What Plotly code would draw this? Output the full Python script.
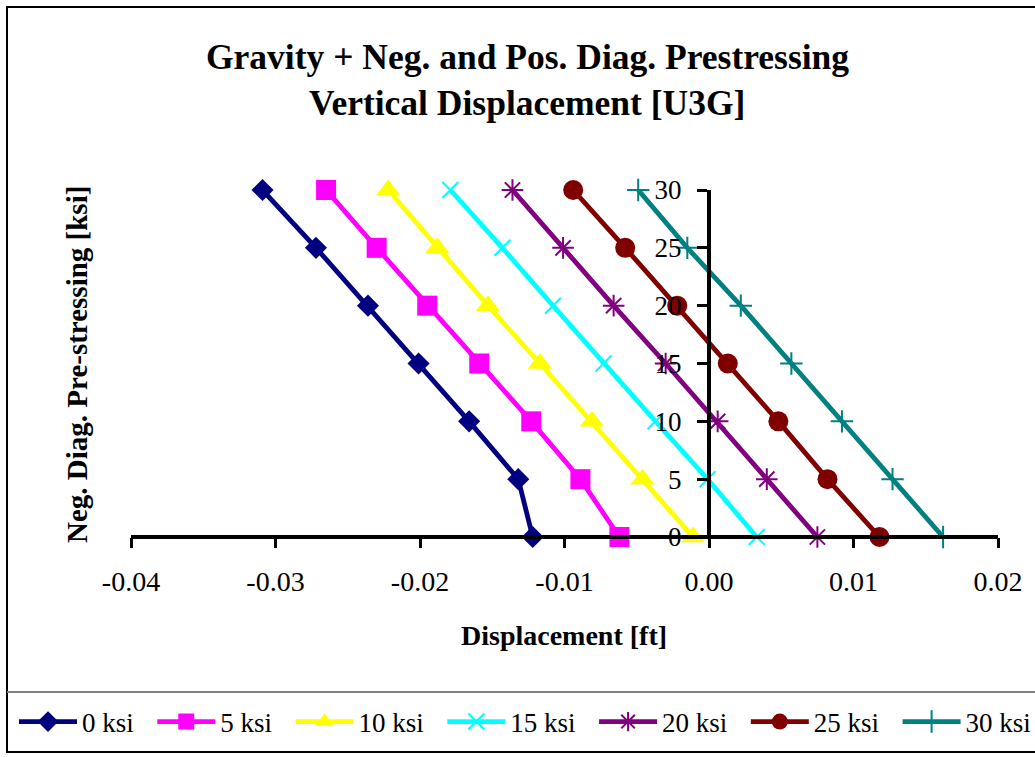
import plotly.graph_objects as go

# ---- data ----
prestress = [0, 5, 10, 15, 20, 25, 30]
series_names = ["0 ksi", "5 ksi", "10 ksi", "15 ksi", "20 ksi", "25 ksi", "30 ksi"]
s0 = [-0.0122, -0.0132, -0.0166, -0.0201, -0.0236, -0.0272, -0.0309]
s5 = [-0.0062, -0.0089, -0.0123, -0.0159, -0.0195, -0.0230, -0.0265]
s10 = [-0.0011, -0.0046, -0.0081, -0.0117, -0.0153, -0.0188, -0.0222]
s15 = [0.0033, -0.0001, -0.0037, -0.0073, -0.0108, -0.0143, -0.0179]
s20 = [0.0075, 0.0040, 0.0006, -0.0030, -0.0066, -0.0101, -0.0136]
s25 = [0.0118, 0.0082, 0.0048, 0.0013, -0.0022, -0.0058, -0.0094]
s30 = [0.0162, 0.0127, 0.0092, 0.0057, 0.0022, -0.0015, -0.0049]
x_ticks = [-0.04, -0.03, -0.02, -0.01, 0.0, 0.01, 0.02]
x_tick_labels = ["-0.04", "-0.03", "-0.02", "-0.01", "0.00", "0.01", "0.02"]
y_ticks = [0, 5, 10, 15, 20, 25, 30]

all_series = [s0, s5, s10, s15, s20, s25, s30]

# ---- styles ----
colors = ["#000080", "#FF00FF", "#FFFF00", "#00FFFF", "#800080", "#800000", "#008080"]
symbols = ["diamond", "square", "triangle-up", "x-thin-open", "asterisk-open", "circle", "cross-thin-open"]
sizes = [17, 20, 21, 16, 18, 20, 16]
line_w = [0, 0, 0, 2, 2, 0, 2]

FONT = "Liberation Serif"
W, H = 1035, 757
# visible axis spans pixels 131..998 for x in [-0.04, 0.02]; plot area extended to the right edge
AX_L, AX_R = 131, 998
L, R, T, B = AX_L, 0, 190, 220
PW, PH = W - L - R, H - T - B
X0, X1 = x_ticks[0], x_ticks[-1]
x_view_max = X1 + (W - AX_R) * (X1 - X0) / (AX_R - AX_L)


def px(x):
    return (x - L) / PW


def py(y):
    return (T + PH - y) / PH


GAP = "\u00a0\u00a0"

fig = go.Figure()
for i, (name, xs, c, sym, sz, lw) in enumerate(zip(series_names, all_series, colors, symbols, sizes, line_w)):
    fig.add_trace(go.Scatter(
        x=xs, y=prestress, name=name + (GAP if i < len(series_names) - 1 else ""),
        mode="lines+markers",
        line=dict(color=c, width=4.8),
        marker=dict(symbol=sym, size=sz, color=c, line=dict(width=lw, color=c)),
        cliponaxis=False,
    ))

fig.update_layout(
    width=W, height=H,
    margin=dict(l=L, r=R, t=T, b=B, autoexpand=False),
    paper_bgcolor="white", plot_bgcolor="white",
    font=dict(family=FONT, color="black", size=27),
    showlegend=True,
    legend=dict(
        orientation="h", x=px(14), xanchor="left", y=py(722), yanchor="middle",
        font=dict(family=FONT, size=27, color="black"),
        itemwidth=58, bgcolor="rgba(0,0,0,0)", tracegroupgap=0,
    ),
    xaxis=dict(
        range=[X0, x_view_max], tickvals=x_ticks, ticktext=x_tick_labels,
        showgrid=False, zeroline=False, showline=False,
        ticks="outside", ticklen=10, tickwidth=3, tickcolor="black",
        ticklabelstandoff=9, tickfont=dict(family=FONT, size=28, color="black"),
        anchor="y",
    ),
    yaxis=dict(
        range=[0, 30], tickvals=y_ticks,
        showgrid=False, zeroline=False, showline=True, linecolor="black", linewidth=4,
        ticks="outside", ticklen=10, tickwidth=3, tickcolor="black",
        ticklabelstandoff=10, tickfont=dict(family=FONT, size=27, color="black"),
        anchor="free", position=(709 - L) / PW, side="left",
    ),
)

# x axis line from first to last tick
fig.add_shape(type="line", xref="x", yref="paper", x0=X0, x1=X1, y0=0, y1=0,
              line=dict(color="black", width=4), layer="above")

# chart border and legend box line
fig.add_shape(type="rect", xref="paper", yref="paper",
              x0=px(7), x1=px(1045), y0=py(752), y1=py(7),
              line=dict(color="black", width=2), layer="below")
fig.add_shape(type="line", xref="paper", yref="paper",
              x0=px(7), x1=px(1045), y0=py(692), y1=py(692),
              line=dict(color="#808080", width=2), layer="below")

# titles
fig.add_annotation(text="<b>Gravity + Neg. and Pos. Diag. Prestressing</b>",
                    xref="paper", yref="paper", x=px(527), y=py(57),
                    xanchor="center", yanchor="middle", showarrow=False,
                    font=dict(family=FONT, size=35.5, color="black"))
fig.add_annotation(text="<b>Vertical Displacement [U3G]</b>",
                    xref="paper", yref="paper", x=px(527), y=py(103),
                    xanchor="center", yanchor="middle", showarrow=False,
                    font=dict(family=FONT, size=35.5, color="black"))
fig.add_annotation(text="<b>Displacement [ft]</b>",
                    xref="paper", yref="paper", x=px(564), y=py(635),
                    xanchor="center", yanchor="middle", showarrow=False,
                    font=dict(family=FONT, size=28, color="black"))
fig.add_annotation(text="<b>Neg. Diag. Pre-stressing [ksi]</b>",
                    xref="paper", yref="paper", x=px(77), y=py(365),
                    xanchor="center", yanchor="middle", showarrow=False, textangle=-90,
                    font=dict(family=FONT, size=29, color="black"))

fig.write_html("out.html")
